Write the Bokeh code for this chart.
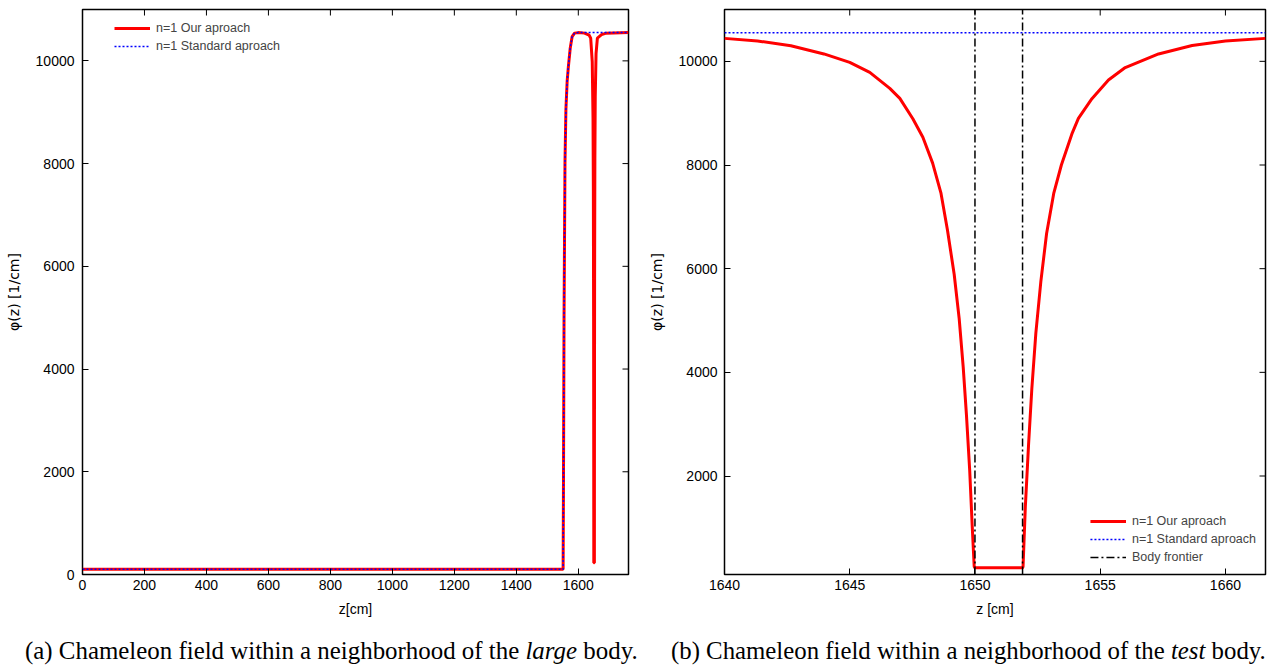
import math
from bokeh.plotting import figure
from bokeh.models import Range1d, FixedTicker, Legend, LegendItem, Div
from bokeh.layouts import column, row
from bokeh.embed import file_html
from bokeh.resources import INLINE

# ---------------- data ----------------
# (a) large body neighbourhood
large_z_std = [0, 200, 400, 600, 800, 1000, 1200, 1400, 1551, 1552, 1554, 1557, 1560,
               1564, 1568, 1574, 1580, 1588, 1600, 1700, 1762]
large_phi_std = [100, 100, 100, 100, 100, 100, 100, 100, 100, 1500, 5000, 8000, 9050,
                 9600, 9890, 10250, 10470, 10540, 10550, 10550, 10550]

large_z_our = [0, 200, 400, 600, 800, 1000, 1200, 1400, 1551, 1552, 1554, 1557, 1560,
               1564, 1568, 1574, 1580, 1588, 1600, 1620, 1635, 1640, 1645, 1647.5,
               1648.6, 1649.4, 1649.8, 1650.0, 1651.9, 1652.1, 1652.6, 1653.5, 1654.7,
               1657.3, 1661.6, 1675, 1690, 1762]
large_phi_our = [100, 100, 100, 100, 100, 100, 100, 100, 100, 1500, 5000, 8000, 9050,
                 9600, 9890, 10250, 10470, 10540, 10550, 10540, 10500, 10443, 9979, 8893,
                 7464, 5036, 2107, 228, 228, 2607, 5750, 8107, 9300,
                 10143, 10443, 10510, 10540, 10550]

# (b) test body neighbourhood
test_z_our = [1640.0, 1641.32, 1642.65, 1643.97, 1645.0, 1645.8, 1646.6, 1647.0, 1647.52,
              1647.92, 1648.31, 1648.64, 1648.9, 1649.17, 1649.37, 1649.53, 1649.66,
              1649.79, 1649.89, 1649.97, 1650.0, 1651.9, 1651.92, 1652.01, 1652.14,
              1652.27, 1652.43, 1652.63, 1652.86, 1653.15, 1653.45, 1653.87, 1654.13,
              1654.67, 1655.33, 1656.0, 1657.33, 1658.67, 1660.0, 1661.6]
test_phi_our = [10443, 10393, 10300, 10143, 9979, 9786, 9479, 9286, 8893,
                8536, 8036, 7464, 6750, 5893, 5036, 4107, 3179,
                2107, 1036, 250, 228, 228, 250, 1393, 2607,
                3679, 4750, 5750, 6679, 7464, 8000, 8600, 8900,
                9280, 9640, 9880, 10143, 10307, 10393, 10443]
test_z_std = [1640.0, 1650.0, 1661.6]
test_phi_std = [10550, 10550, 10550]
frontier_z = [1650.0, 1651.9]

# ticks
a_xticks = [0, 200, 400, 600, 800, 1000, 1200, 1400, 1600]
a_yticks = [0, 2000, 4000, 6000, 8000, 10000]
b_xticks = [1640, 1645, 1650, 1655, 1660]
b_yticks = [2000, 4000, 6000, 8000, 10000]

a_xr = (0, 1762)
a_yr = (0, 11000)
b_xr = (1640, 1661.6)
b_yr = (100, 11000)

TICK_FONT = "Liberation Sans"
LAB_FONT = "DejaVu Sans"
TICK_LEN = 6
FIG_H = 630


def style(p, xticks, yticks, xr, yr, xlabel, ylabel, ylabel_standoff, ytick_standoff):
    p.outline_line_color = "black"
    p.outline_line_width = 1.5
    p.xgrid.visible = False
    p.ygrid.visible = False
    p.background_fill_color = "white"
    for ax in (p.xaxis[0], p.yaxis[0]):
        ax.axis_line_color = None
        ax.major_tick_in = TICK_LEN
        ax.major_tick_out = 0
        ax.major_tick_line_color = "black"
        ax.major_tick_line_width = 1
        ax.minor_tick_line_color = None
        ax.major_label_text_font = TICK_FONT
        ax.major_label_text_font_size = "14px"
        ax.major_label_text_color = "black"
        ax.axis_label_text_font_style = "normal"
        ax.axis_label_text_color = "black"
    p.xaxis[0].ticker = FixedTicker(ticks=xticks)
    p.yaxis[0].ticker = FixedTicker(ticks=yticks)
    p.xaxis[0].axis_label = xlabel
    p.xaxis[0].axis_label_text_font = TICK_FONT
    p.xaxis[0].axis_label_text_font_size = "14px"
    p.xaxis[0].major_label_standoff = 5
    p.xaxis[0].axis_label_standoff = 8
    p.yaxis[0].axis_label = ylabel
    p.yaxis[0].axis_label_text_font = LAB_FONT
    p.yaxis[0].axis_label_text_font_size = "14px"
    p.yaxis[0].major_label_standoff = ytick_standoff
    p.yaxis[0].axis_label_standoff = ylabel_standoff
    # mirrored inward ticks on the top and right frame edges
    p.ray(x=xticks, y=[yr[1]] * len(xticks), length=TICK_LEN, length_units="screen",
          angle=-math.pi / 2, line_color="black", line_width=1)
    p.ray(x=[xr[1]] * len(yticks), y=yticks, length=TICK_LEN, length_units="screen",
          angle=math.pi, line_color="black", line_width=1)


# ---------------- panel (a) ----------------
p1 = figure(width=640, height=FIG_H, output_backend="svg", toolbar_location=None,
            x_range=Range1d(*a_xr), y_range=Range1d(*a_yr),
            min_border_left=82, min_border_right=12, min_border_top=9,
            min_border_bottom=56)
style(p1, a_xticks, a_yticks, a_xr, a_yr, "z[cm]", "φ(z) [1/cm]", 11, 8)
r_our_a = p1.line(large_z_our, large_phi_our, line_color="#ff0000", line_width=3)
r_std_a = p1.line(large_z_std, large_phi_std, line_color="#0000ff", line_width=1.5,
                  line_dash="2 2")
leg1 = Legend(items=[LegendItem(label="n=1 Our aproach", renderers=[r_our_a]),
                     LegendItem(label="n=1 Standard aproach", renderers=[r_std_a])],
              location=(30, 518), background_fill_alpha=0, border_line_alpha=0,
              label_text_font=TICK_FONT, label_text_font_size="12.5px",
              glyph_width=36, glyph_height=14, label_height=16, spacing=2,
              padding=2, margin=0, label_standoff=6)
p1.add_layout(leg1)

# ---------------- panel (b) ----------------
p2 = figure(width=627, height=FIG_H, output_backend="svg", toolbar_location=None,
            x_range=Range1d(*b_xr), y_range=Range1d(*b_yr),
            min_border_left=84, min_border_right=2, min_border_top=9,
            min_border_bottom=56)
style(p2, b_xticks, b_yticks, b_xr, b_yr, "z [cm]", "φ(z) [1/cm]", 11, 7)
r_our_b = p2.line(test_z_our, test_phi_our, line_color="#ff0000", line_width=3)
r_std_b = p2.line(test_z_std, test_phi_std, line_color="#0000ff", line_width=1.5,
                  line_dash="2 2")
r_fr_b = p2.segment(x0=frontier_z, x1=frontier_z, y0=[b_yr[0]] * len(frontier_z),
                    y1=[b_yr[1]] * len(frontier_z), line_color="black",
                    line_width=1.5, line_dash="8 3 2 3")
leg2 = Legend(items=[LegendItem(label="n=1 Our aproach", renderers=[r_our_b]),
                     LegendItem(label="n=1 Standard aproach", renderers=[r_std_b]),
                     LegendItem(label="Body frontier", renderers=[r_fr_b])],
              location="bottom_right", background_fill_alpha=0, border_line_alpha=0,
              label_text_font=TICK_FONT, label_text_font_size="12.5px",
              glyph_width=36, glyph_height=14, label_height=16, spacing=2,
              padding=2, margin=7, label_standoff=6)
p2.add_layout(leg2)

cap_style = {"font-family": "Liberation Serif", "color": "black",
             "white-space": "nowrap", "line-height": "26px", "padding-top": "8px"}
d1 = Div(text="(a) Chameleon field within a neighborhood of the <i>large</i> body.",
         width=640, height=35, margin=0,
         styles=dict(cap_style, **{"padding-left": "25px", "font-size": "24.9px"}))
d2 = Div(text="(b) Chameleon field within a neighborhood of the <i>test</i> body.",
         width=627, height=35, margin=0,
         styles=dict(cap_style, **{"padding-left": "31px", "font-size": "24.8px"}))

layout = column(row(p1, p2), row(d1, d2))
open("out.html", "w").write(file_html(layout, INLINE))
